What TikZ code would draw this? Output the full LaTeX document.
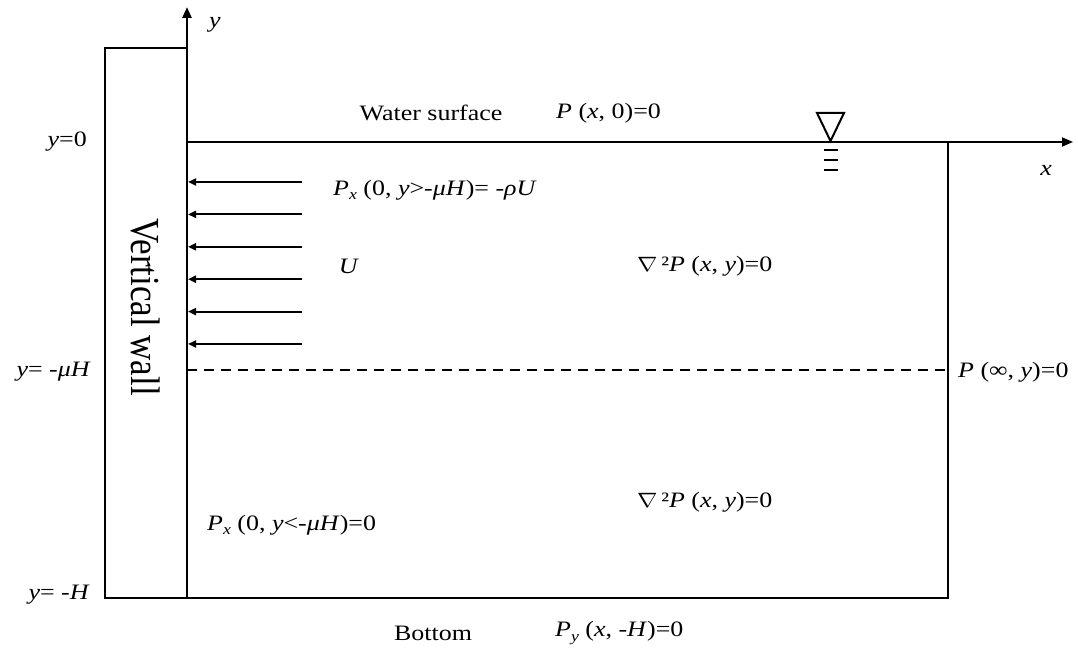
\documentclass[tikz,border=0pt]{standalone}
\usepackage{fontspec}
\setmainfont[FakeStretch=1.18]{Liberation Serif}
\newfontfamily\wallfont{Liberation Serif}
\usetikzlibrary{arrows.meta}
\newcommand\sbx[1]{\raisebox{-0.45ex}{\fontsize{15}{15}\selectfont\itshape #1}}
\newcommand\nablasym{\scalebox{1.18}[1]{$\nabla$}}
\tikzset{
  lbl/.style={font=\fontsize{22}{26}\selectfont, inner sep=0pt},
  thin line/.style={line width=1.8pt},
  axis line/.style={line width=2.6pt, -{Triangle[length=11pt,width=9pt]}},
  flow/.style={line width=2pt, -{Triangle[length=8pt,width=7pt]}},
  level/.style={line width=2pt, dash pattern=on 10pt off 7pt}
}
\begin{document}
\begin{tikzpicture}[x=1pt,y=1pt]
\useasboundingbox (0,0) rectangle (1078,652);
% key coordinates
\coordinate (O) at (187,510);
\coordinate (Ytop) at (187,645);
\coordinate (Ybot) at (187,54);
\coordinate (WallTL) at (105,604);
\coordinate (WallTR) at (187,604);
\coordinate (WallBL) at (105,54);
\coordinate (Xend) at (1073,510);
\coordinate (RT) at (948,510);
\coordinate (RB) at (948,54);
\coordinate (DL) at (187,282);
\coordinate (DR) at (948,282);
% wall
\draw[thin line] (WallTR) -- (WallTL) -- (WallBL) -- (RB) -- (RT);
% axes
\draw[axis line] (Ybot) -- (Ytop);
\draw[thin line, -{Triangle[length=11pt,width=9pt]}] (O) -- (Xend);
% dashed level
\draw[level] (DL) -- (DR);
% flow arrows
\foreach \i/\yy in {1/470,2/437.6,3/405.2,4/372.8,5/340.4,6/308}{
  \coordinate (fs\i) at (302,\yy);
  \coordinate (fe\i) at (188,\yy);
  \draw[flow] (fs\i) -- (fe\i);
}
% water level symbol
\coordinate (T1) at (817,539);
\coordinate (T2) at (844,539);
\coordinate (T3) at (830.5,511);
\draw[line width=2pt, line join=miter] (T1) -- (T2) -- (T3) -- cycle;
\foreach \i/\yy in {1/502,2/492,3/482}{
  \coordinate (ws\i) at (824,\yy);
  \coordinate (we\i) at (838,\yy);
  \draw[line width=2pt] (ws\i) -- (we\i);
}
% labels
\node[lbl] (ylab) at (215,627) {\textit{y}};
\node[lbl] (xlab) at (1046,482) {\textit{x}};
\node[lbl, anchor=east] (y0) at (87,510) {\textit{y}=0};
\node[lbl, anchor=east] (ymu) at (91,280) {\textit{y}= -\textit{μH}};
\node[lbl, anchor=east] (yH) at (90,57) {\textit{y}= -\textit{H}};
\node[rotate=-90, inner sep=0pt] (wall) at (146,345) {\scalebox{1}[1.18]{\wallfont\fontsize{35}{40}\selectfont Vertical wall}};
\node[lbl] (ws) at (431,539) {Water surface};
\node[lbl, anchor=west] (p0) at (556,539) {\textit{P} (\textit{x}, 0)=0};
\node[lbl, anchor=west] (pxu) at (333,462) {\textit{P}\sbx{x} (0, \textit{y}>-\textit{μH})= -\textit{ρU}};
\node[lbl] (U) at (349,386) {\textit{U}};
\node[lbl, anchor=west] (lap1) at (637,386) {\nablasym\,²\textit{P} (\textit{x}, \textit{y})=0};
\node[lbl, anchor=west] (pinf) at (958,280) {\textit{P} (∞, \textit{y})=0};
\node[lbl, anchor=west] (lap2) at (637,150) {\nablasym\,²\textit{P} (\textit{x}, \textit{y})=0};
\node[lbl, anchor=west] (pxl) at (207,127) {\textit{P}\sbx{x} (0, \textit{y}<-\textit{μH})=0};
\node[lbl] (bot) at (433,19) {Bottom};
\node[lbl, anchor=west] (py) at (555,19) {\textit{P}\sbx{y} (\textit{x}, -\textit{H})=0};
\end{tikzpicture}
\end{document}
